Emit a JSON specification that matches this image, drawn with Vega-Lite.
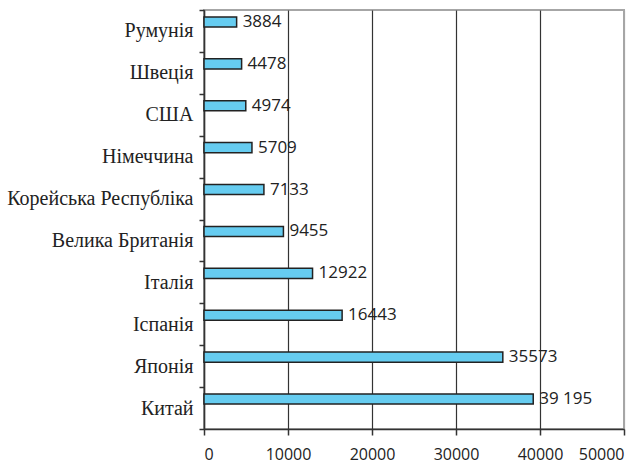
{
  "$schema": "https://vega.github.io/schema/vega-lite/v6.json",
  "width": 420,
  "height": 419,
  "autosize": "none",
  "padding": {"left": 204, "top": 10, "right": 5, "bottom": 35},
  "background": "white",
  "config": {
    "view": {"stroke": "#a6a6a6", "strokeWidth": 2},
    "axis": {"domainColor": "#333333", "tickColor": "#333333", "domainWidth": 1.5, "tickWidth": 1.5}
  },
  "data": {
    "values": [
      {"country": "Румунія", "value": 3884, "label": "3884"},
      {"country": "Швеція", "value": 4478, "label": "4478"},
      {"country": "США", "value": 4974, "label": "4974"},
      {"country": "Німеччина", "value": 5709, "label": "5709"},
      {"country": "Корейська Республіка", "value": 7133, "label": "7133"},
      {"country": "Велика Британія", "value": 9455, "label": "9455"},
      {"country": "Італія", "value": 12922, "label": "12922"},
      {"country": "Іспанія", "value": 16443, "label": "16443"},
      {"country": "Японія", "value": 35573, "label": "35573"},
      {"country": "Китай", "value": 39195, "label": "39 195"}
    ]
  },
  "encoding": {
    "y": {
      "field": "country", "type": "nominal", "sort": null,
      "scale": {"paddingInner": 0, "paddingOuter": 0},
      "axis": {
        "title": null, "tickBand": "extent", "tickSize": 5, "labelPadding": 6, "labelLimit": 260,
        "labelFont": "Liberation Serif", "labelFontSize": 20, "labelColor": "#222222"
      }
    }
  },
  "layer": [
    {
      "mark": {"type": "bar", "height": {"band": 0.24}, "yOffset": -9, "fill": "#66ccf0", "stroke": "#222222", "strokeWidth": 1.5},
      "encoding": {
        "x": {
          "field": "value", "type": "quantitative",
          "scale": {"domain": [0, 50000], "nice": false},
          "axis": {
            "title": null, "values": [0, 10000, 20000, 30000, 40000, 50000],
            "format": "d", "tickSize": 6, "labelPadding": 11,
            "labelFont": "Open Sans", "labelFontSize": 16, "labelColor": "#222222",
            "grid": true, "gridWidth": 1.2,
            "gridColor": {"condition": {"test": "datum.value >= 50000", "value": "#a6a6a6"}, "value": "#333333"}
          }
        }
      }
    },
    {
      "mark": {"type": "text", "align": "left", "baseline": "middle", "dx": 6, "yOffset": -9, "font": "Open Sans", "fontSize": 17, "color": "#222222"},
      "encoding": {
        "x": {"field": "value", "type": "quantitative"},
        "text": {"field": "label"}
      }
    }
  ]
}
